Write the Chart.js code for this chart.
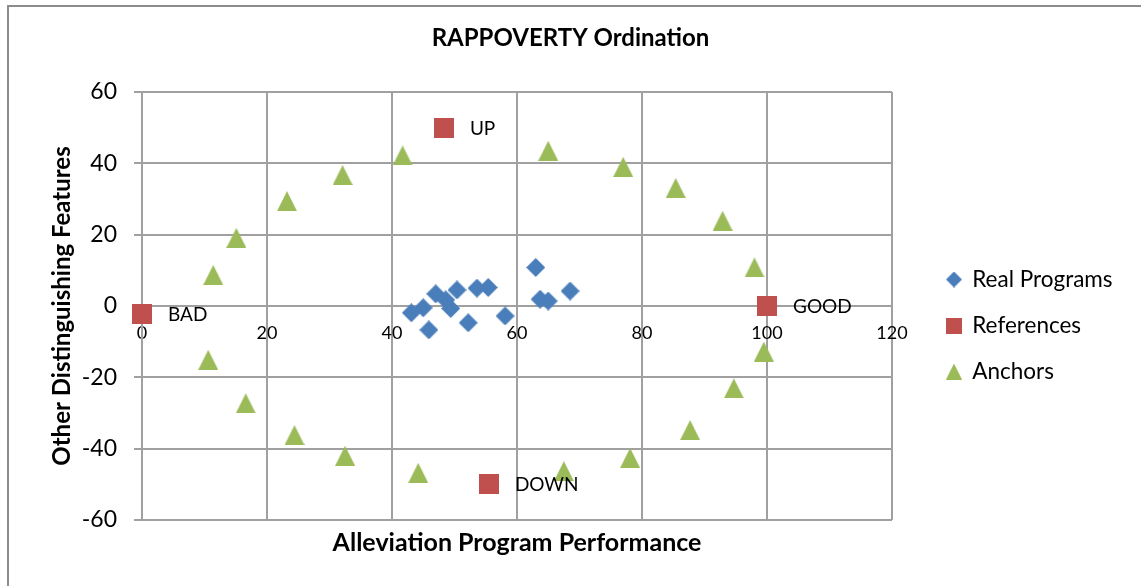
<!DOCTYPE html>
<html>
<head>
<meta charset="utf-8">
<script src="https://cdn.jsdelivr.net/npm/chart.js@4.4.0/dist/chart.umd.min.js"></script>
<style>
  html, body { margin: 0; padding: 0; background: #fff; }
</style>
</head>
<body>
<canvas id="ordination" width="1141" height="586"></canvas>
<script>
// values
const realX = [43.1, 45.0, 45.9, 47.0, 48.6, 49.4, 50.4, 52.2, 53.6, 55.4, 58.1, 63.0, 63.7, 65.0, 68.5];
const realY = [-1.9, -0.5, -6.7, 3.4, 1.7, -0.7, 4.5, -4.7, 5.0, 5.2, -2.8, 10.8, 1.9, 1.4, 4.2];

const refLabels = ["BAD", "UP", "GOOD", "DOWN"];
const refX = [0, 48.3, 100, 55.5];
const refY = [-2.2, 50, 0, -50];

const anchorX = [10.6, 11.4, 15.1, 16.6, 23.2, 24.4, 32.1, 32.5, 41.7, 44.2,
                 65.0, 67.5, 77.0, 78.1, 85.4, 87.7, 92.9, 94.7, 98.0, 99.5];
const anchorY = [-15.1, 8.7, 19.1, -27.3, 29.4, -36.2, 36.7, -42.0, 42.2, -46.8,
                 43.5, -46.3, 39.0, -42.6, 33.1, -34.8, 23.9, -23.1, 10.8, -12.8];

const seriesNames = ["Real Programs", "References", "Anchors"];
const xTicks = { min: 0, max: 120, step: 20 };
const yTicks = { min: -60, max: 60, step: 20 };

const GRID = "#a0a0a0";
const LEGEND_W = 217.5; // legend box width, items start at left + padding
const GAP = 31.5;       // empty space between plot and legend

function toPoints(xs, ys) {
  return xs.map((x, i) => ({ x: x, y: ys[i] }));
}

// excel-like marker shapes
function makeMarker(shape, size, color) {
  const c = document.createElement("canvas");
  c.width = size;
  c.height = size;
  const g = c.getContext("2d");
  g.fillStyle = color;
  g.beginPath();
  if (shape === "diamond") {
    g.moveTo(size / 2, 0);
    g.lineTo(size, size / 2);
    g.lineTo(size / 2, size);
    g.lineTo(0, size / 2);
  } else if (shape === "triangle") {
    g.moveTo(size / 2, 0);
    g.lineTo(size, size);
    g.lineTo(0, size);
  } else {
    g.rect(0, 0, size, size);
  }
  g.closePath();
  g.fill();
  return c;
}

const BLUE = "#4a7ebb", RED = "#c0504d", GREEN = "#9bbb59";
const plotMarks = [makeMarker("diamond", 19, BLUE), makeMarker("square", 20, RED), makeMarker("triangle", 20, GREEN)];
const legendMarks = [makeMarker("diamond", 16, BLUE), makeMarker("square", 16, RED), makeMarker("triangle", 16, GREEN)];

// white background and the outer frame of the excel chart
const framePlugin = {
  id: "frame",
  beforeDraw(chart) {
    const ctx = chart.ctx;
    ctx.save();
    ctx.fillStyle = "#fff";
    ctx.fillRect(0, 0, chart.width, chart.height);
    ctx.strokeStyle = "#8c8c8c";
    ctx.lineWidth = 2;
    ctx.beginPath();
    ctx.moveTo(8, chart.height);
    ctx.lineTo(8, 6);
    ctx.lineTo(chart.width, 6);
    ctx.stroke();
    ctx.restore();
  },
};

// BAD / UP / GOOD / DOWN next to the reference squares
const refLabelPlugin = {
  id: "refLabels",
  afterDatasetsDraw(chart) {
    const ctx = chart.ctx;
    const meta = chart.getDatasetMeta(1);
    ctx.save();
    ctx.font = "19px Lato";
    ctx.fillStyle = "#000";
    ctx.textAlign = "left";
    ctx.textBaseline = "middle";
    meta.data.forEach((pt, i) => {
      ctx.fillText(refLabels[i], pt.x + 26, pt.y + 1);
    });
    ctx.restore();
  },
};

// fixed legend width so the plot area ends where it does in the reference
const legendWidthPlugin = {
  id: "legendWidth",
  afterInit(chart) {
    const lg = chart.legend;
    if (!lg) return;
    const fit = lg.fit;
    lg.fit = function () {
      fit.call(this);
      this.width = LEGEND_W;
    };
  },
};

Chart.defaults.font.family = "Lato";
Chart.defaults.color = "#000";

const ctx = document.getElementById("ordination").getContext("2d");
new Chart(ctx, {
  type: "scatter",
  data: {
    datasets: [
      { label: seriesNames[0], data: toPoints(realX, realY), pointStyle: plotMarks[0] },
      { label: seriesNames[1], data: toPoints(refX, refY), pointStyle: plotMarks[1] },
      { label: seriesNames[2], data: toPoints(anchorX, anchorY), pointStyle: plotMarks[2] },
    ].map((d) => Object.assign(d, { xAxisID: "x", yAxisID: "y", pointRadius: 10, clip: false })),
  },
  options: {
    responsive: false,
    animation: false,
    devicePixelRatio: 1,
    layout: { padding: 0 },
    scales: {
      x: {
        type: "linear",
        position: { y: 0 },
        min: xTicks.min,
        max: xTicks.max,
        ticks: { stepSize: xTicks.step, font: { size: 18 }, padding: 11 },
        grid: { color: GRID, lineWidth: 2, tickLength: 5 },
        border: { color: GRID, width: 2 },
      },
      y: {
        type: "linear",
        position: "left",
        min: yTicks.min,
        max: yTicks.max,
        ticks: { stepSize: yTicks.step, font: { size: 23 }, padding: 17 },
        grid: { color: GRID, lineWidth: 2, tickLength: 8 },
        border: { color: GRID, width: 2 },
        title: {
          display: true,
          text: "Other Distinguishing Features",
          font: { size: 24, weight: "bold" },
          padding: { top: 48, bottom: 0 },
        },
        afterFit(s) {
          s.width = 142;
        },
      },
      xTitle: {
        type: "linear",
        axis: "x",
        position: "bottom",
        grid: { display: false, drawTicks: false },
        border: { display: false },
        ticks: { display: false },
        title: {
          display: true,
          text: "Alleviation Program Performance",
          font: { size: 25, weight: "bold" },
          padding: { top: 8, bottom: 28 },
        },
      },
      gap: {
        type: "linear",
        axis: "y",
        position: "right",
        grid: { display: false, drawTicks: false },
        border: { display: false },
        ticks: { display: false },
        afterFit(s) {
          s.width = GAP;
        },
      },
    },
    plugins: {
      title: {
        display: true,
        text: "RAPPOVERTY Ordination",
        font: { size: 24, weight: "bold" },
        padding: { top: 23.6, bottom: 39.6 },
      },
      legend: {
        position: "right",
        fullSize: false,
        align: "center",
        title: { display: true, text: " ", font: { size: 10 }, padding: { top: 27, bottom: 0 } },
        labels: {
          usePointStyle: true,
          boxWidth: 14,
          boxHeight: 14,
          padding: 23.5,
          font: { size: 22.5 },
          generateLabels(chart) {
            const items = Chart.defaults.plugins.legend.labels.generateLabels(chart);
            items.forEach((it, i) => {
              it.pointStyle = legendMarks[i];
            });
            return items;
          },
        },
      },
      tooltip: { enabled: false },
    },
  },
  plugins: [framePlugin, refLabelPlugin, legendWidthPlugin],
});
</script>
</body>
</html>
